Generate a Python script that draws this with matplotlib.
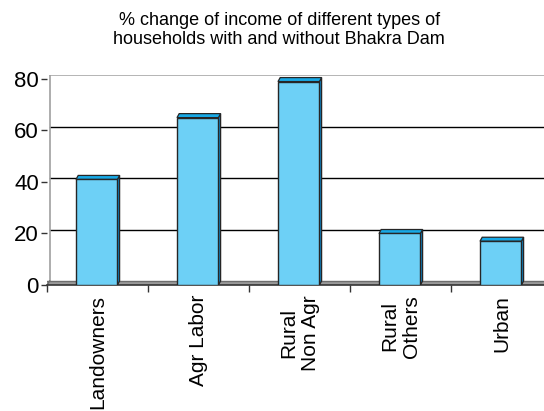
import matplotlib.pyplot as plt
from matplotlib.patches import Polygon, Rectangle

plt.rcParams['font.family'] = ['Liberation Sans', 'DejaVu Sans']

categories = ["Landowners", "Agr Labor", "Rural\nNon Agr", "Rural\nOthers", "Urban"]
income_change = [41, 65, 79, 20, 17]
y_ticks = [0, 20, 40, 60, 80]

face = "#6dd0f6"
top = "#17a9e6"
side = "#0d7fc0"
edge = "#262626"

# pseudo-3D offsets: front plane sits a little lower/left of the back wall
dy = 1.55
dx = 0.022
width = 0.41

fig = plt.figure(figsize=(5.44, 4.11), dpi=100)
ax = fig.add_axes([47.3 / 544, 126 / 411, 505 / 544, 210 / 411])
ax.set_xlim(0, 5)
ax.set_ylim(-dy, 80)

# back wall gridlines and top border
for v in y_ticks[1:-1]:
    ax.plot([dx, 5], [v, v], color="black", lw=1.0, zorder=1)
ax.plot([dx, 5], [80, 80], color="#a8a8a8", lw=1.2, zorder=1)
ax.plot([dx, dx], [0, 80], color="#a0a0a0", lw=1.2, zorder=1)

# floor band
ax.add_patch(Rectangle((0, -dy), 5, dy, facecolor="#9a9a9a", edgecolor="none", zorder=2))
ax.plot([0, 5], [0, 0], color="#6e6e6e", lw=1.0, zorder=2)
ax.plot([0, dx], [-dy, 0], color="#6e6e6e", lw=1.0, zorder=2)

for i, v in enumerate(income_change):
    x0 = i + 0.5 - width / 2 - dx / 2
    x1 = x0 + width
    ax.add_patch(Polygon([(x1, -dy), (x1 + dx, 0), (x1 + dx, v), (x1, v - dy)],
                         closed=True, facecolor=side, edgecolor=edge, lw=0.9, zorder=3))
    ax.add_patch(Polygon([(x0, v - dy), (x1, v - dy), (x1 + dx, v), (x0 + dx, v)],
                         closed=True, facecolor=top, edgecolor=edge, lw=0.9, zorder=3))
    ax.add_patch(Rectangle((x0, -dy), width, v, facecolor=face, edgecolor=edge,
                           lw=1.0, zorder=4))

for s in ["top", "right", "left"]:
    ax.spines[s].set_visible(False)
ax.spines["bottom"].set_color("#333333")
ax.spines["bottom"].set_linewidth(1.2)

ax.set_yticks([v - dy for v in y_ticks])
ax.set_yticklabels([str(v) for v in y_ticks], fontsize=16)
ax.tick_params(axis="y", length=4, width=1, color="#333333", pad=2)

ax.set_xticks(range(5))
ax.set_xticklabels([])
ax.tick_params(axis="x", length=5, width=1, color="#333333")
for i, lab in enumerate(categories):
    ax.text(i + 0.5, -5.4, lab, rotation=90, ha="center", va="top",
            fontsize=15, linespacing=1.15)

fig.text(0.513, 0.972, "% change of income of different types of\nhouseholds with and without Bhakra Dam",
         ha="center", va="top", fontsize=13, linespacing=1.2)

fig.savefig("out.png", dpi=100)
